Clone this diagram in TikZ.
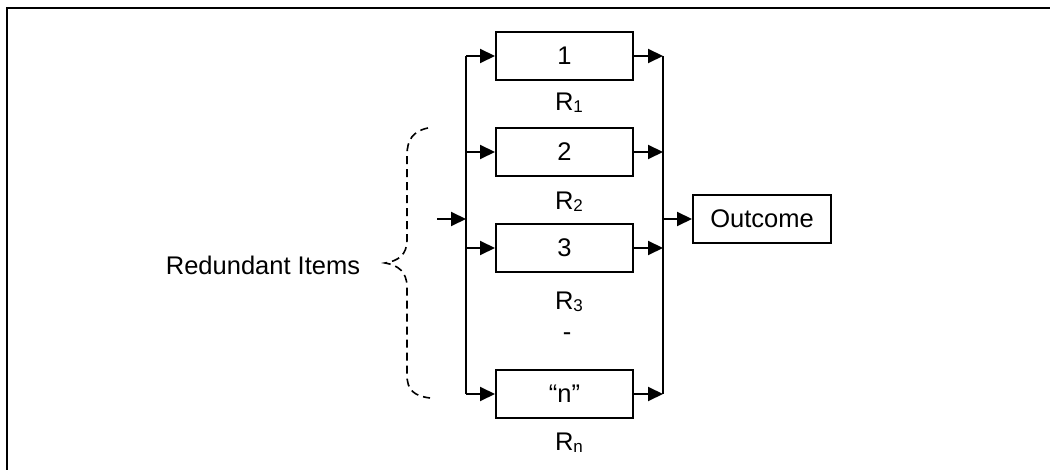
\documentclass[tikz,border=0pt]{standalone}
\usepackage{fontspec}
\setmainfont{Liberation Sans}
\usetikzlibrary{arrows.meta}
\newcommand{\relsub}[1]{\raisebox{-2pt}{\fontsize{17}{20}\selectfont #1}}
\begin{document}
\begin{tikzpicture}[x=1pt,y=-1pt,
  every node/.style={font=\fontsize{25.5}{30}\selectfont, inner sep=0pt},
  unit/.style={draw, line width=2pt, minimum width=137pt, minimum height=48pt},
  wire/.style={line width=2pt},
  arr/.style={wire, -{Triangle[length=15pt,width=14pt]}},
  brace/.style={line width=1.6pt, dash pattern=on 8pt off 5pt}]
\useasboundingbox (0,0) rectangle (1050,470);
% outer frame
\draw[line width=2.5pt] (7,470) -- (7,8) -- (1050,8);
% parallel units
\node[unit] (u1) at (564.5,56) {1};
\node[unit] (u2) at (564.5,152) {2};
\node[unit] (u3) at (564.5,248) {3};
\node[unit] (un) at (564.5,394) {“n”};
\node[unit, minimum width=138pt] (out) at (762,219) {Outcome};
% reliabilities
\node (r1) at (569,103) {R\relsub{1}};
\node (r2) at (569,202) {R\relsub{2}};
\node (r3) at (569,302) {R\relsub{3}};
\node (dots) at (567,337) {-};
\node (rn) at (569,443) {R\relsub{n}};
% buses
\coordinate (lbus) at (466,0);
\coordinate (rbus) at (663,0);
\coordinate (in) at (437,219);
\draw[wire] (lbus |- u1.west) -- (lbus |- un.west);
\draw[wire] (rbus |- u1.east) -- (rbus |- un.east);
\draw[arr] (in) -- (in -| lbus);
\foreach \u in {u1,u2,u3,un}{
  \draw[arr] (lbus |- \u.west) -- (\u.west);
  \draw[arr] (\u.east) -- (rbus |- \u.east);
}
\draw[arr] (rbus |- out.west) -- (out.west);
% brace and label
\node (lab) at (263,265) {Redundant Items};
\draw[brace] (428,128) .. controls (413,131) and (407,140) .. (407,155)
  -- (407,240) .. controls (407,255) and (398,261) .. (385,263)
  .. controls (398,265) and (407,272) .. (407,287)
  -- (407,375) .. controls (407,390) and (414,396) .. (430,398);
\end{tikzpicture}
\end{document}
